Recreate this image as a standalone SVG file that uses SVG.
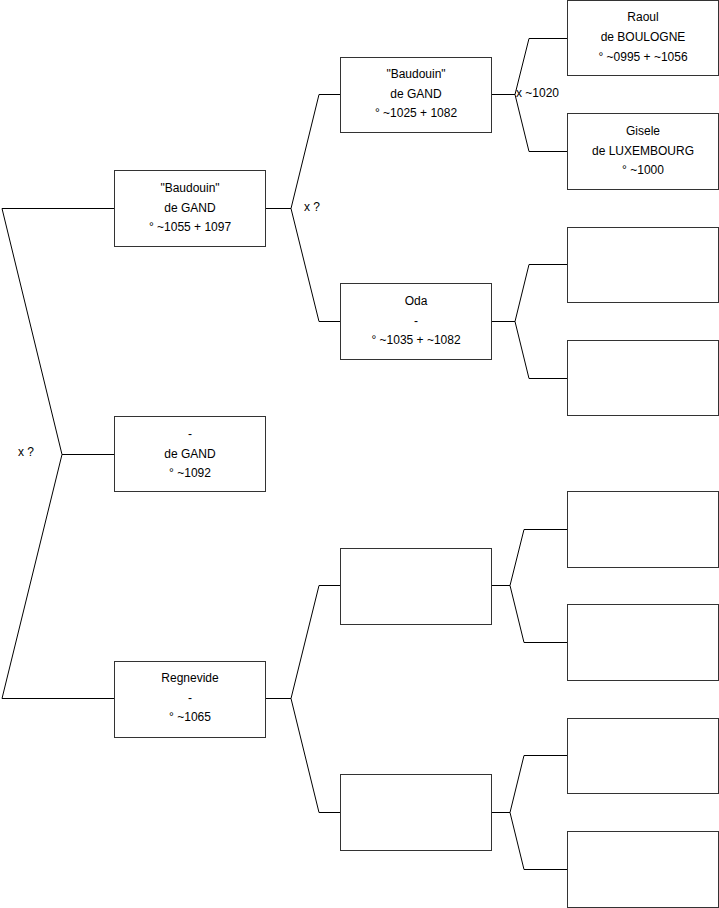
<svg xmlns="http://www.w3.org/2000/svg" width="719" height="908" viewBox="0 0 719 908">
<style>
.b{fill:#fff;stroke:#333;stroke-width:1}
.c{fill:none;stroke:#000;stroke-width:1}
text{font-family:"Liberation Sans",Arial,sans-serif;font-size:12px;fill:#000}
.m{text-anchor:middle}
</style>
<rect width="719" height="908" fill="#fff"/>
<g id="connectors">
<polyline class="c" points="114,208.5 2,208.5 62,454.5 2,698.5 114,698.5"/>
<line class="c" x1="62" y1="454.5" x2="114" y2="454.5"/>
<polyline class="c" points="340,94.5 319,94.5 291,208.5 319,321.5 340,321.5"/>
<line class="c" x1="265" y1="208.5" x2="291" y2="208.5"/>
<polyline class="c" points="340,585.5 319,585.5 291,698.5 319,812.5 340,812.5"/>
<line class="c" x1="265" y1="698.5" x2="291" y2="698.5"/>
<polyline class="c" points="567,38.5 529,38.5 515,94.5 529,151.5 567,151.5"/>
<line class="c" x1="492" y1="94.5" x2="515" y2="94.5"/>
<polyline class="c" points="567,264.5 529,264.5 515,321.5 529,378.5 567,378.5"/>
<line class="c" x1="492" y1="321.5" x2="515" y2="321.5"/>
<polyline class="c" points="567,529.5 524,529.5 510,585.5 524,642.5 567,642.5"/>
<line class="c" x1="492" y1="585.5" x2="510" y2="585.5"/>
<polyline class="c" points="567,755.5 524,755.5 510,812.5 524,869.5 567,869.5"/>
<line class="c" x1="492" y1="812.5" x2="510" y2="812.5"/>
<text x="18" y="456">x ?</text>
<text x="304" y="211">x ?</text>
<text x="516" y="97">x ~1020</text>
</g>
<g id="n1"><rect class="b" x="114.5" y="170.5" width="151" height="76"/>
<text class="m" x="190" y="192">"Baudouin"</text><text class="m" x="190" y="212">de GAND</text><text class="m" x="190" y="231">° ~1055 + 1097</text></g>
<g id="n2"><rect class="b" x="114.5" y="416.5" width="151" height="75"/>
<text class="m" x="190" y="438">-</text><text class="m" x="190" y="458">de GAND</text><text class="m" x="190" y="477">° ~1092</text></g>
<g id="n3"><rect class="b" x="114.5" y="661.5" width="151" height="76"/>
<text class="m" x="190" y="682">Regnevide</text><text class="m" x="190" y="702">-</text><text class="m" x="190" y="721">° ~1065</text></g>
<g id="n4"><rect class="b" x="340.5" y="57.5" width="151" height="75"/>
<text class="m" x="416" y="78">"Baudouin"</text><text class="m" x="416" y="98">de GAND</text><text class="m" x="416" y="117">° ~1025 + 1082</text></g>
<g id="n5"><rect class="b" x="340.5" y="283.5" width="151" height="76"/>
<text class="m" x="416" y="305">Oda</text><text class="m" x="416" y="325">-</text><text class="m" x="416" y="344">° ~1035 + ~1082</text></g>
<g id="n6"><rect class="b" x="340.5" y="548.5" width="151" height="76"/></g>
<g id="n7"><rect class="b" x="340.5" y="774.5" width="151" height="76"/></g>
<g id="n8"><rect class="b" x="567.5" y="0.5" width="151" height="75"/>
<text class="m" x="643" y="21">Raoul</text><text class="m" x="643" y="41">de BOULOGNE</text><text class="m" x="643" y="61">° ~0995 + ~1056</text></g>
<g id="n9"><rect class="b" x="567.5" y="113.5" width="151" height="76"/>
<text class="m" x="643" y="135">Gisele</text><text class="m" x="643" y="155">de LUXEMBOURG</text><text class="m" x="643" y="174">° ~1000</text></g>
<g id="n10"><rect class="b" x="567.5" y="227.5" width="151" height="75"/></g>
<g id="n11"><rect class="b" x="567.5" y="340.5" width="151" height="75"/></g>
<g id="n12"><rect class="b" x="567.5" y="491.5" width="151" height="76"/></g>
<g id="n13"><rect class="b" x="567.5" y="604.5" width="151" height="76"/></g>
<g id="n14"><rect class="b" x="567.5" y="718.5" width="151" height="75"/></g>
<g id="n15"><rect class="b" x="567.5" y="831.5" width="151" height="76"/></g>
</svg>
